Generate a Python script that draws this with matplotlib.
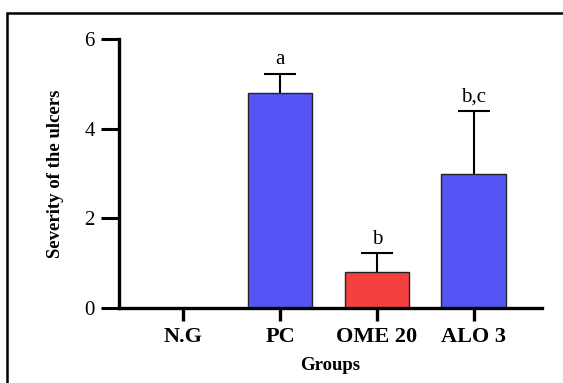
import matplotlib
matplotlib.use("Agg")
import matplotlib.pyplot as plt
from matplotlib.patches import Rectangle

groups = ["N.G", "PC", "OME 20", "ALO 3"]
means = [0.0, 4.80, 0.81, 2.98]
errors = [0.0, 0.43, 0.41, 1.42]
colors = ["#5555F5", "#5555F5", "#F54040", "#5555F5"]
letters = ["", "a", "b", "b,c"]
yticks = [0, 2, 4, 6]

W, H = 563, 383
fig = plt.figure(figsize=(W / 100, H / 100), dpi=100)
ax = fig.add_axes([118.5 / W, 1 - 308 / H, (541.5 - 118.5) / W, (308 - 39) / H])

serif = ["Liberation Serif", "DejaVu Serif"]
x = list(range(len(groups)))
ax.bar(x, means, width=0.667, color=colors, edgecolor="#222222", linewidth=1.0, zorder=2)
eb = ax.errorbar(x[1:], means[1:], yerr=[[0] * 3, errors[1:]], fmt="none", ecolor="black",
                 elinewidth=1.5, capsize=11.5, capthick=1.5, zorder=1)
eb[1][0].set_visible(False)

for xi, m, e, lab in zip(x, means, errors, letters):
    if lab:
        ax.annotate(lab, (xi, m + e), xytext=(0, 3), textcoords="offset points",
                    ha="center", va="bottom", fontsize=15, family=serif)

ax.set_xlim(-0.67, 3.7)
ax.set_ylim(0, 6)
ax.set_yticks(yticks)
ax.set_yticklabels([str(t) for t in yticks], fontsize=15, family=serif)
ax.set_xticks(x)
ax.set_xticklabels(groups, fontsize=16, fontweight="bold", family=serif)
for s in ["top", "right"]:
    ax.spines[s].set_visible(False)
for s in ["left", "bottom"]:
    ax.spines[s].set_linewidth(2.4)
ax.spines["bottom"].set_zorder(3)
ax.tick_params(axis="y", length=13, width=2.2, pad=4)
ax.tick_params(axis="x", length=9, width=2.4, pad=5)
ax.set_xlabel("Groups", fontsize=13.5, fontweight="bold", family=serif, labelpad=7)
ax.set_ylabel("Severity of the ulcers", fontsize=13.5, fontweight="bold", family=serif, labelpad=15)

fig.patches.append(Rectangle((7 / W, -0.1), 1.2, 1 - 13 / H + 0.1, transform=fig.transFigure,
                             fill=False, edgecolor="black", linewidth=1.8))

fig.savefig("out.png", dpi=100)
